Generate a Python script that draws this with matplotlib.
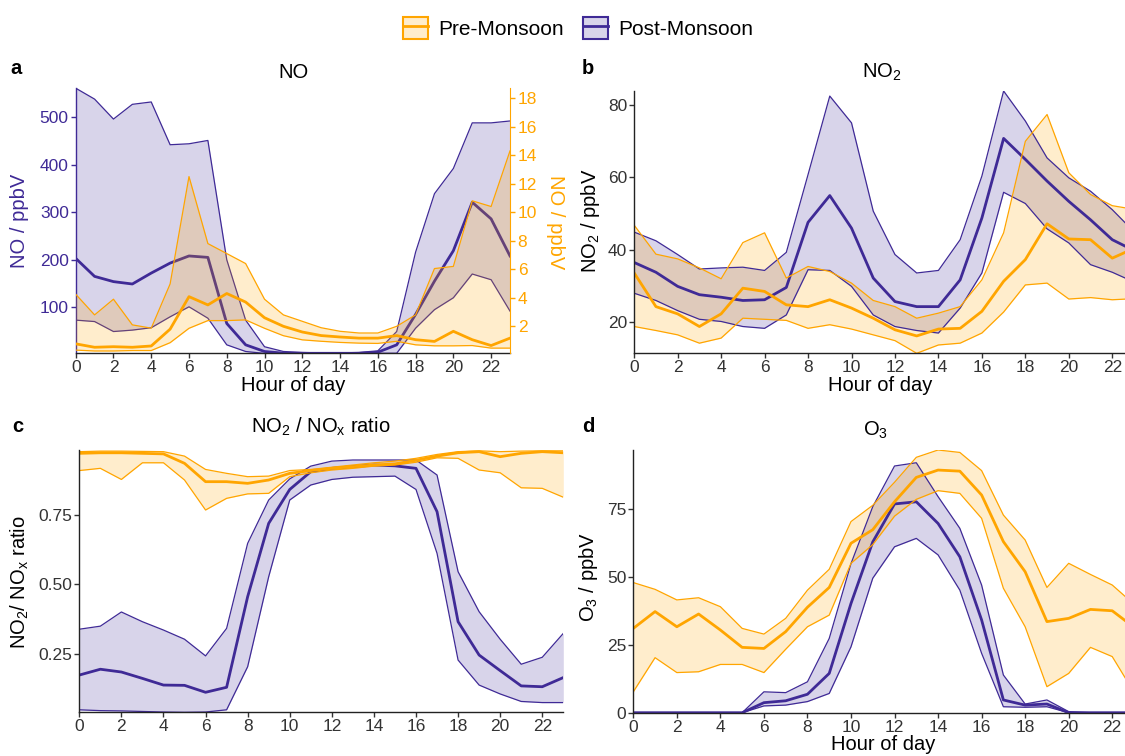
import numpy as np
import matplotlib
matplotlib.use("Agg")
import matplotlib.pyplot as plt
from matplotlib.patches import Patch
from matplotlib.lines import Line2D
from matplotlib.legend_handler import HandlerTuple
from matplotlib.colors import to_rgba

plt.rcParams['font.family'] = ['Liberation Sans', 'DejaVu Sans']
plt.rcParams['mathtext.default'] = 'regular'

# Colours
pre_col = '#FFA500'
post_col = '#3F2A96'
tick_col = '#333333'

hours = np.arange(24)

# NO, post-monsoon (ppbV, left axis)
no_post_low = [73, 70, 49, 52, 57, 80, 101, 77, 21, 7, 3, 3, 3, 3, 3, 3, 3.3, 3.3, 56, 95, 120, 170, 158, 92]
no_post_mean = [203, 165, 154, 149, 172, 193, 208, 205, 66, 21, 7, 3.5, 3.2, 3.2, 3.2, 3.2, 5.5, 21, 85, 155, 219, 321, 286, 208]
no_post_high = [561, 538, 496, 527, 532, 442, 444, 451, 200, 73, 17, 7, 5, 4, 4, 5, 8.4, 49, 216, 339, 392, 488, 488, 492]

# NO, pre-monsoon (ppbV, right axis)
no_pre_low = [0.33, 0.27, 0.27, 0.3, 0.3, 0.85, 1.86, 2.4, 2.4, 2.45, 1.86, 1.34, 1.05, 0.95, 0.87, 0.82, 0.8, 0.95, 0.7, 0.63, 0.63, 0.65, 0.47, 0.47]
no_pre_mean = [0.77, 0.53, 0.57, 0.53, 0.62, 1.8, 4.08, 3.5, 4.3, 3.7, 2.6, 2.0, 1.6, 1.35, 1.25, 1.17, 1.17, 1.35, 1.06, 0.94, 1.65, 1.06, 0.65, 1.17]
no_pre_high = [4.25, 2.8, 3.9, 2.1, 1.87, 4.97, 12.5, 7.8, 7.1, 6.4, 3.9, 2.8, 2.35, 1.9, 1.65, 1.53, 1.53, 2.0, 2.8, 6.05, 6.2, 10.8, 10.4, 14.3]

# NO2
no2_post_low = [28, 26, 23.2, 20.8, 20.2, 18.8, 18.3, 22, 34.5, 34.3, 29.9, 22, 18.8, 17.7, 17, 23.9, 33.6, 55.9, 52.8, 45.8, 41.9, 35.9, 33.8, 31.1]
no2_post_mean = [36.5, 33.8, 29.9, 27.6, 26.9, 26.0, 26.2, 29.6, 47.6, 55, 46, 32.2, 25.7, 24.3, 24.3, 31.7, 48.8, 70.8, 65, 59, 53.4, 48.3, 42.8, 39.8]
no2_post_high = [44.9, 42.5, 38.7, 34.7, 35, 35.2, 34.3, 39.3, 60.8, 82.5, 75.1, 50.7, 38.7, 33.6, 34.3, 42.8, 60.4, 83.9, 75.6, 65.4, 59.9, 56.2, 51.1, 45]
no2_pre_low = [18.8, 17.7, 16.5, 14.2, 15.6, 21.1, 20.8, 20.5, 18.3, 19.3, 18.1, 16.5, 14.9, 11.4, 13.7, 14.2, 17, 22.8, 30.3, 30.8, 26.4, 26.8, 26.2, 26.5]
no2_pre_mean = [33.6, 24.3, 22.3, 18.8, 22.3, 29.4, 28.5, 24.8, 24.3, 26.2, 23.9, 21.1, 17.9, 16.2, 18.1, 18.3, 23, 31.3, 37.3, 47.2, 43, 42.8, 37.7, 40.4]
no2_pre_high = [46.8, 38.8, 37.5, 35, 32, 42, 44.7, 32.2, 35.4, 34, 30.8, 26, 24.3, 21.1, 22.5, 24.3, 31.7, 44.7, 70, 77.4, 61.3, 55.3, 52.2, 51.2]

# NO2 / NOx ratio
ratio_post_low = [0.049, 0.046, 0.045, 0.043, 0.041, 0.04, 0.041, 0.049, 0.204, 0.528, 0.804, 0.858, 0.878, 0.886, 0.888, 0.89, 0.842, 0.612, 0.228, 0.138, 0.106, 0.079, 0.075, 0.075]
ratio_post_mean = [0.174, 0.195, 0.185, 0.162, 0.138, 0.137, 0.112, 0.13, 0.456, 0.72, 0.842, 0.906, 0.918, 0.924, 0.93, 0.927, 0.918, 0.762, 0.366, 0.246, 0.19, 0.135, 0.132, 0.165]
ratio_post_high = [0.339, 0.35, 0.401, 0.366, 0.336, 0.303, 0.243, 0.342, 0.648, 0.804, 0.88, 0.926, 0.944, 0.948, 0.948, 0.948, 0.948, 0.894, 0.546, 0.402, 0.303, 0.213, 0.238, 0.324]
ratio_pre_low = [0.91, 0.918, 0.878, 0.938, 0.938, 0.876, 0.768, 0.81, 0.826, 0.828, 0.888, 0.902, 0.912, 0.918, 0.926, 0.93, 0.94, 0.956, 0.954, 0.912, 0.902, 0.848, 0.846, 0.814]
ratio_pre_mean = [0.972, 0.974, 0.974, 0.972, 0.97, 0.936, 0.87, 0.87, 0.864, 0.876, 0.9, 0.91, 0.918, 0.924, 0.93, 0.934, 0.947, 0.962, 0.974, 0.978, 0.96, 0.972, 0.978, 0.974]
ratio_pre_high = [0.978, 0.98, 0.98, 0.979, 0.978, 0.962, 0.914, 0.9, 0.888, 0.89, 0.91, 0.914, 0.922, 0.93, 0.938, 0.944, 0.954, 0.968, 0.978, 0.981, 0.978, 0.98, 0.981, 0.981]

# O3
o3_post_low = [0, 0, 0, 0, 0, 0, 2.5, 2.8, 4.1, 7.1, 24.3, 49.6, 61.2, 64.3, 58.2, 45.2, 21.9, 2.2, 2, 2.2, 0, 0, 0, 0]
o3_post_mean = [0, 0, 0, 0, 0, 0, 3.7, 4.4, 6.8, 14.5, 40.3, 63, 77, 77.8, 69.8, 57.5, 34.2, 4.7, 2.8, 3.2, 0, 0, 0, 0]
o3_post_high = [0, 0, 0, 0, 0, 0, 7.7, 7.4, 11.4, 27.4, 55, 76, 91, 92.2, 79.7, 68, 47.1, 13.9, 3.2, 4.7, 0.4, 0, 0, 0]
o3_pre_low = [7.7, 20.3, 14.8, 15.1, 17.8, 17.8, 14.8, 23.4, 31.7, 36, 55.1, 62, 72.5, 78.7, 81.9, 80.9, 71.7, 45.9, 31.7, 9.6, 14.5, 24.1, 20.7, 7.5]
o3_pre_mean = [31.1, 37.3, 31.7, 36.4, 30.5, 24.1, 23.7, 29.9, 38.9, 46.2, 62.5, 67.5, 77.8, 86.8, 89.5, 89.1, 80.3, 63.1, 52, 33.6, 34.8, 38.1, 37.6, 31.5]
o3_pre_high = [48, 45.5, 41.6, 42.4, 39.1, 31.1, 29, 34.8, 45.2, 52.9, 70.5, 76.5, 85, 94.2, 96.9, 96, 89.3, 72.9, 63.7, 46.2, 55.1, 51, 47.1, 40]

W, H = 1125, 756


def box(x0, y_top, x1, y_bot):
    # pixel box -> figure fraction rect
    return [x0 / W, 1 - y_bot / H, (x1 - x0) / W, (y_bot - y_top) / H]


def px(x, y):
    return x / W, 1 - y / H


def band(ax, low, mid, high, color):
    ax.fill_between(hours, low, high, color=color, alpha=0.2, lw=0)
    ax.plot(hours, low, color=color, lw=0.9)
    ax.plot(hours, high, color=color, lw=0.9)
    ax.plot(hours, mid, color=color, lw=2.0, solid_joinstyle='round')


def style(ax):
    for s in ['top', 'right']:
        ax.spines[s].set_visible(False)
    for s in ['left', 'bottom']:
        ax.spines[s].set_color('#222222')
        ax.spines[s].set_linewidth(1.0)
    ax.tick_params(direction='out', length=3.5, width=1.0, color='#333333',
                   labelsize=12.5, labelcolor=tick_col, pad=1.5)
    ax.set_xlim(0, 23)
    ax.set_xticks(range(0, 23, 2))


fig = plt.figure(figsize=(11.25, 7.56), dpi=100)

# a: NO
ax_a = fig.add_axes(box(75.7, 87.7, 510, 353.3))
style(ax_a)
band(ax_a, no_post_low, no_post_mean, no_post_high, post_col)
ax_a.set_ylim(3.2, 562)
ax_a.set_yticks([100, 200, 300, 400, 500])
ax_a.spines['left'].set_color(post_col)
ax_a.tick_params(axis='y', colors=post_col, labelcolor=post_col)
ax_a2 = ax_a.twinx()
band(ax_a2, no_pre_low, no_pre_mean, no_pre_high, pre_col)
ax_a2.set_ylim(np.array(ax_a.get_ylim()) / 30)
ax_a2.set_yticks(range(2, 19, 2))
for s in ['top', 'left', 'bottom']:
    ax_a2.spines[s].set_visible(False)
ax_a2.spines['right'].set_color(pre_col)
ax_a2.tick_params(axis='y', direction='out', length=3.5, width=1.0, colors=pre_col,
                  labelcolor=pre_col, labelsize=12.5, pad=2)

# b: NO2
ax_b = fig.add_axes(box(634.2, 91, 1134, 353.3))
style(ax_b)
band(ax_b, no2_post_low, no2_post_mean, no2_post_high, post_col)
band(ax_b, no2_pre_low, no2_pre_mean, no2_pre_high, pre_col)
ax_b.set_ylim(11.4, 83.9)
ax_b.set_yticks([20, 40, 60, 80])

# c: NO2/NOx ratio
ax_c = fig.add_axes(box(79.3, 450, 563.3, 712.3))
style(ax_c)
band(ax_c, ratio_post_low, ratio_post_mean, ratio_post_high, post_col)
band(ax_c, ratio_pre_low, ratio_pre_mean, ratio_pre_high, pre_col)
ax_c.set_ylim(0.04, 0.984)
ax_c.set_yticks([0.25, 0.5, 0.75])
ax_c.set_yticklabels(['0.25', '0.50', '0.75'])

# d: O3
ax_d = fig.add_axes(box(633.3, 450, 1134, 712.7))
style(ax_d)
band(ax_d, o3_post_low, o3_post_mean, o3_post_high, post_col)
band(ax_d, o3_pre_low, o3_pre_mean, o3_pre_high, pre_col)
ax_d.set_ylim(0, 96.9)
ax_d.set_yticks([0, 25, 50, 75])

# titles, panel letters, axis labels
fs = 14.5
fig.text(*px(293, 72), 'NO', ha='center', va='center', fontsize=fs)
fig.text(*px(882, 72), 'NO$_2$', ha='center', va='center', fontsize=fs)
fig.text(*px(321, 427), 'NO$_2$ / NO$_x$ ratio', ha='center', va='center', fontsize=fs)
fig.text(*px(876, 430), 'O$_3$', ha='center', va='center', fontsize=fs)

for lab, (x, y) in zip('abcd', [(10, 68), (582, 68), (12, 426), (582, 426)]):
    fig.text(*px(x, y), lab, ha='left', va='center', fontsize=fs, fontweight='bold')

fig.text(*px(293, 385), 'Hour of day', ha='center', va='center', fontsize=fs)
fig.text(*px(880, 385), 'Hour of day', ha='center', va='center', fontsize=fs)
fig.text(*px(883, 745), 'Hour of day', ha='center', va='center', fontsize=fs)

fig.text(*px(20, 221), 'NO / ppbV', ha='center', va='center', rotation=90, fontsize=fs, color=post_col)
fig.text(*px(555, 222), 'NO / ppbV', ha='center', va='center', rotation=-90, fontsize=fs, color=pre_col)
fig.text(*px(590, 221), 'NO$_2$ / ppbV', ha='center', va='center', rotation=90, fontsize=fs)
fig.text(*px(20, 582), 'NO$_2$/ NO$_x$ ratio', ha='center', va='center', rotation=90, fontsize=fs)
fig.text(*px(589, 577), 'O$_3$ / ppbV', ha='center', va='center', rotation=90, fontsize=fs)

# legend: filled box with outline and a line through the middle
handles = []
for c in [pre_col, post_col]:
    handles.append((Patch(facecolor=to_rgba(c, 0.2), edgecolor=c, lw=1.5),
                    Line2D([], [], color=c, lw=2)))
fig.legend(handles, ['Pre-Monsoon', 'Post-Monsoon'], loc='center',
           bbox_to_anchor=px(578, 28), ncol=2, frameon=False, fontsize=15,
           handler_map={tuple: HandlerTuple(ndivide=1, pad=0)},
           handlelength=1.2, handleheight=1.2, columnspacing=0.9, handletextpad=0.5)

fig.savefig('out.png', dpi=100)
